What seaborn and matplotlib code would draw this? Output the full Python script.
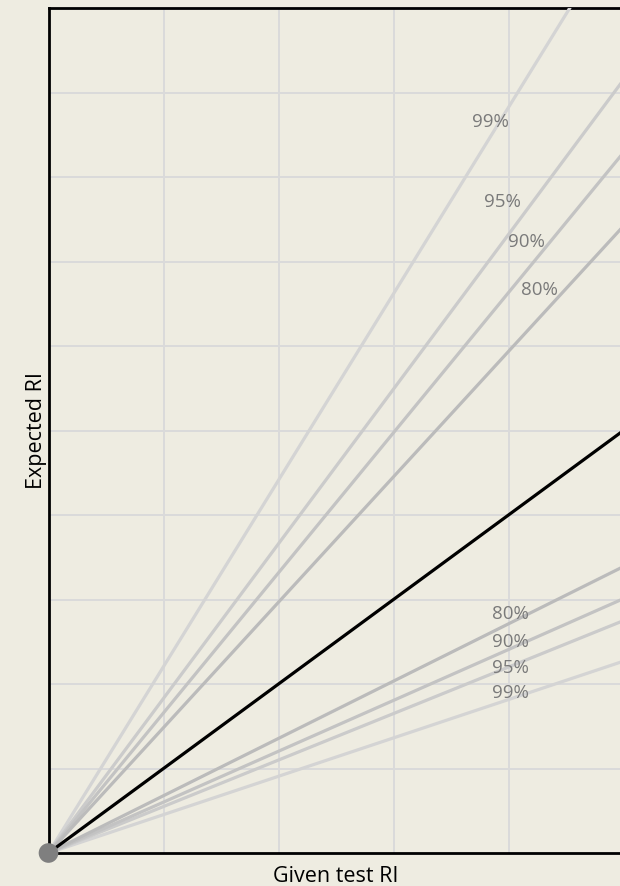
import matplotlib
matplotlib.use("Agg")
import matplotlib.pyplot as plt
import seaborn as sns
import pandas as pd

# Data
levels = ["99%", "95%", "90%", "80%"]
x_ends = [0.0, 5.0]
upper_end_values = [11.03, 9.15, 8.29, 7.42]   # expected RI at given RI = 5 (upper limits)
lower_end_values = [2.27, 2.75, 3.01, 3.39]    # expected RI at given RI = 5 (lower limits)
identity_end_value = 5.0
line_colors = ["#D4D4D4", "#CBCBCB", "#C3C3C3", "#BBBBBB"]
upper_label_pos = [(3.84, 8.65), (3.95, 7.70), (4.16, 7.23), (4.27, 6.66)]
lower_label_pos = [(4.02, 1.89), (4.02, 2.19), (4.02, 2.50), (4.02, 2.83)]

bg = "#EEECE1"
sns.set_theme(style="white")
plt.rcParams["font.family"] = ["Open Sans", "DejaVu Sans"]

fig = plt.figure(figsize=(6.2, 8.86), dpi=100, facecolor=bg)
ax = fig.add_axes([48.5 / 620, 33 / 886, 575 / 620, 845 / 886])
ax.set_facecolor(bg)

rows = []
for lvl, up, lo in zip(levels, upper_end_values, lower_end_values):
    rows.append(pd.DataFrame({"x": x_ends, "y": [0.0, up], "series": f"up {lvl}"}))
    rows.append(pd.DataFrame({"x": x_ends, "y": [0.0, lo], "series": f"lo {lvl}"}))
df = pd.concat(rows, ignore_index=True)
palette = {}
for lvl, c in zip(levels, line_colors):
    palette[f"up {lvl}"] = c
    palette[f"lo {lvl}"] = c

sns.lineplot(data=df, x="x", y="y", hue="series", palette=palette, linewidth=2.3,
             legend=False, ax=ax, estimator=None, sort=False, zorder=3)

ident = pd.DataFrame({"x": x_ends, "y": [0.0, identity_end_value]})
sns.lineplot(data=ident, x="x", y="y", color="black", linewidth=2.3, ax=ax,
             estimator=None, zorder=4)

sns.scatterplot(x=[0.0], y=[0.0], color="#7F7F7F", s=200, ax=ax, zorder=6,
                clip_on=False, edgecolor="none")

for lvl, (px, py) in zip(levels, upper_label_pos):
    ax.text(px, py, lvl, color="#7A7A7A", fontsize=13.5, ha="center", va="center", zorder=5)
for lvl, (px, py) in zip(levels, lower_label_pos):
    ax.text(px, py, lvl, color="#7A7A7A", fontsize=13.5, ha="center", va="center", zorder=5)

ax.set_xlim(0, 5)
ax.set_ylim(0, 10)
ax.set_xticks([1, 2, 3, 4])
ax.set_yticks(range(1, 10))
ax.tick_params(length=0, labelbottom=False, labelleft=False)
ax.grid(True, color="#DADADA", linewidth=1.4, zorder=0)
ax.set_axisbelow(True)
for s in ["left", "bottom", "top"]:
    ax.spines[s].set_color("black")
    ax.spines[s].set_linewidth(2)
ax.spines["right"].set_visible(False)

ax.set_xlabel("Given test RI", fontsize=15.5, color="black", labelpad=9)
ax.set_ylabel("Expected RI", fontsize=15.5, color="black", labelpad=1)

fig.savefig("out.png", dpi=100, facecolor=bg)
